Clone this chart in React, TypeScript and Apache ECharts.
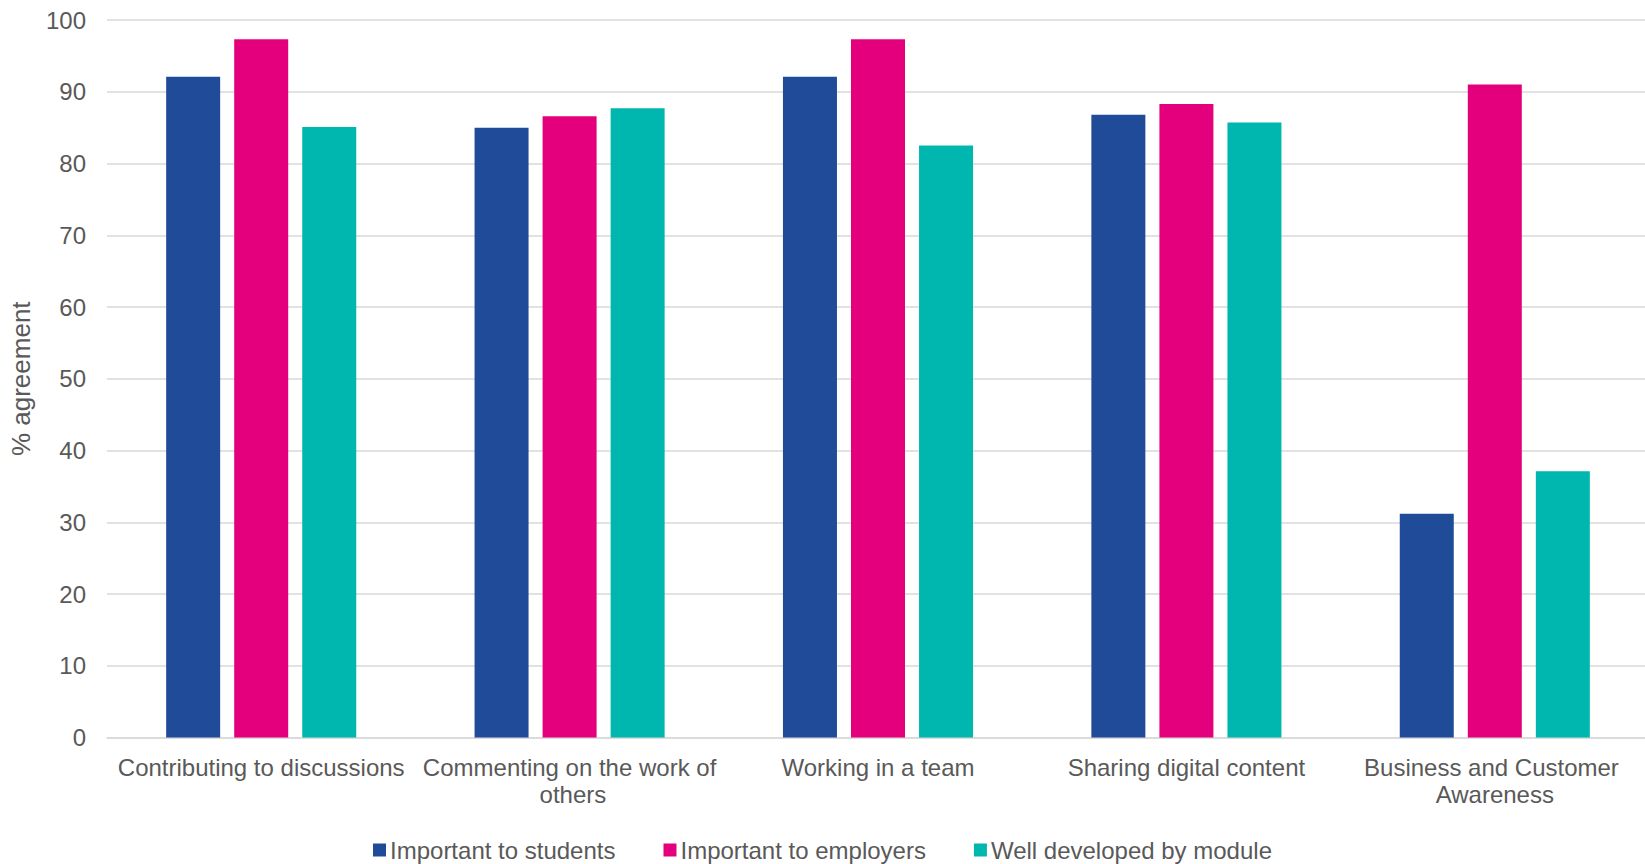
import React, { useEffect, useRef } from "react";
import * as echarts from "echarts";

const categories = [
  "Contributing to discussions",
  "Commenting on the work of others",
  "Working in a team",
  "Sharing digital content",
  "Business and Customer Awareness",
];
const importantToStudents = [92.1, 85.0, 92.1, 86.8, 31.2];
const importantToEmployers = [97.3, 86.6, 97.3, 88.3, 91.0];
const wellDevelopedByModule = [85.1, 87.7, 82.5, 85.7, 37.1];
const seriesNames = ["Important to students", "Important to employers", "Well developed by module"];
const colors = ["#1F4B99", "#E4007D", "#00B7B0"];

const FONT = "'Liberation Sans', Arial, sans-serif";
const TEXT = "#595959";

export default function App() {
  const ref = useRef<HTMLDivElement>(null);
  useEffect(() => {
    if (!ref.current) return;
    const chart = echarts.init(ref.current, null, { renderer: "svg" });
    const values = [importantToStudents, importantToEmployers, wellDevelopedByModule];
    chart.setOption({
      animation: false,
      backgroundColor: "#ffffff",
      textStyle: { fontFamily: FONT },
      grid: {
        left: 107,
        right: -4,
        top: 20,
        bottom: 126.5,
        containLabel: false,
        outerBoundsMode: "none",
      },
      legend: {
        left: "center",
        bottom: -3,
        icon: "rect",
        itemWidth: 13,
        itemHeight: 13,
        itemGap: 48,
        textStyle: { fontSize: 24, color: TEXT, fontFamily: FONT, padding: [0, 0, 0, -1] },
        data: seriesNames,
      },
      xAxis: {
        type: "category",
        data: categories,
        axisLine: { show: true, lineStyle: { color: "#d9d9d9", width: 1.5 } },
        axisTick: { show: false },
        axisLabel: {
          interval: 0,
          fontSize: 24,
          color: TEXT,
          fontFamily: FONT,
          margin: 16,
          lineHeight: 27,
          width: 300,
          overflow: "break",
        },
      },
      yAxis: {
        type: "value",
        min: 0,
        max: 100,
        interval: 10,
        name: "% agreement",
        nameLocation: "middle",
        nameGap: 73,
        nameRotate: 90,
        nameTextStyle: { fontSize: 26, color: TEXT, fontFamily: FONT },
        axisLine: { show: false },
        axisTick: { show: false },
        axisLabel: { fontSize: 24, color: TEXT, fontFamily: FONT, margin: 21 },
        splitLine: { lineStyle: { color: "#d9d9d9", width: 1.5 } },
      },
      series: seriesNames.map((name, i) => ({
        name,
        type: "bar",
        data: values[i],
        barWidth: 54,
        barGap: "26%",
        itemStyle: { color: colors[i] },
      })),
    });
    return () => chart.dispose();
  }, []);
  return (
    <div
      ref={ref}
      style={{ position: "fixed", left: 0, top: 0, width: 1645, height: 864, background: "#fff" }}
    />
  );
}
